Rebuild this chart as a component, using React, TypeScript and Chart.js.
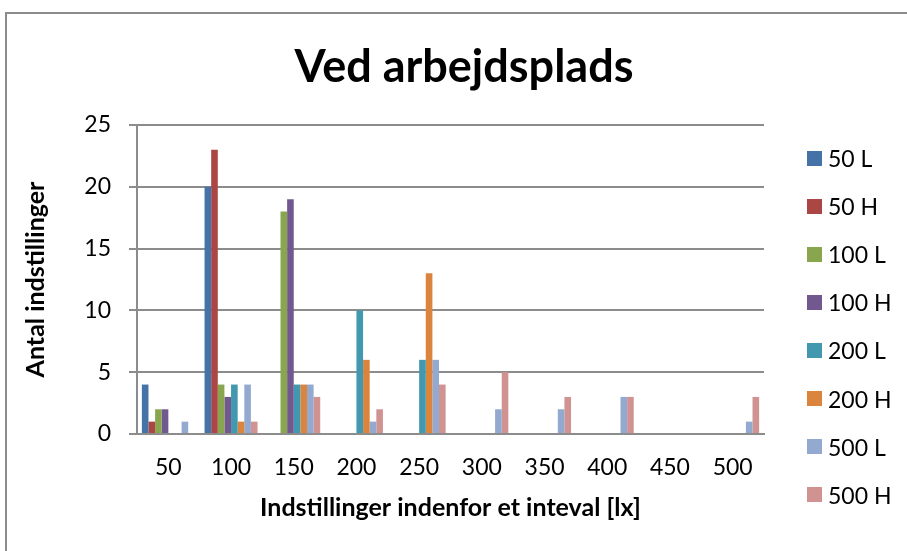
import React, { useEffect, useRef } from "react";
import { Chart, registerables } from "chart.js";

Chart.register(...registerables);

const categories = ["50", "100", "150", "200", "250", "300", "350", "400", "450", "500"];
const seriesNames = ["50 L", "50 H", "100 L", "100 H", "200 L", "200 H", "500 L", "500 H"];
const s50L = [4, 20, 0, 0, 0, 0, 0, 0, 0, 0];
const s50H = [1, 23, 0, 0, 0, 0, 0, 0, 0, 0];
const s100L = [2, 4, 18, 0, 0, 0, 0, 0, 0, 0];
const s100H = [2, 3, 19, 0, 0, 0, 0, 0, 0, 0];
const s200L = [0, 4, 4, 10, 6, 0, 0, 0, 0, 0];
const s200H = [0, 1, 4, 6, 13, 0, 0, 0, 0, 0];
const s500L = [1, 4, 4, 1, 6, 2, 2, 3, 0, 1];
const s500H = [0, 1, 3, 2, 4, 5, 3, 3, 0, 3];
const seriesColors = ["#4572A7", "#AA4643", "#89A54E", "#71588F", "#4198AF", "#DB843D", "#93A9CF", "#D19392"];
const yTicks = [0, 5, 10, 15, 20, 25];
const chartTitle = "Ved arbejdsplads";
const xTitle = "Indstillinger indenfor et inteval [lx]";
const yTitle = "Antal indstillinger";

const FONT = "Lato, 'Open Sans', sans-serif";

export default function App() {
  const ref = useRef<HTMLCanvasElement | null>(null);
  useEffect(() => {
    if (!ref.current) return;
    const values = [s50L, s50H, s100L, s100H, s200L, s200H, s500L, s500H];
    const chart = new Chart(ref.current, {
      type: "bar",
      data: {
        labels: categories,
        datasets: values.map((v, i) => ({
          label: seriesNames[i],
          data: v,
          backgroundColor: seriesColors[i],
          borderWidth: 0,
          categoryPercentage: 0.845,
          barPercentage: 1.0,
        })),
      },
      options: {
        animation: false,
        responsive: false,
        maintainAspectRatio: false,
        layout: { padding: { left: 0, right: 143, top: 125, bottom: 0 } },
        plugins: {
          legend: { display: false },
          tooltip: { enabled: false },
          title: { display: false },
        },
        scales: {
          x: {
            grid: { display: false, drawTicks: false },
            border: { display: true, color: "#8c8c8c", width: 2 },
            ticks: { color: "#000", font: { family: FONT, size: 23 }, padding: 20, maxRotation: 0 },
            title: {
              display: true,
              text: xTitle,
              color: "#000",
              font: { family: FONT, size: 25, weight: "bold" },
              padding: { top: 0, bottom: 28 },
            },
            afterFit: (s: any) => {
              s.height = 117;
            },
          },
          y: {
            min: 0,
            max: 25,
            afterBuildTicks: (s: any) => {
              s.ticks = yTicks.map((v) => ({ value: v }));
            },
            grid: { color: "#8c8c8c", lineWidth: 2, drawTicks: true, tickLength: 8 },
            border: { display: true, color: "#8c8c8c", width: 2 },
            ticks: { color: "#000", font: { family: FONT, size: 23 }, padding: 18 },
            title: {
              display: true,
              text: yTitle,
              color: "#000",
              font: { family: FONT, size: 25, weight: "bold" },
              padding: { top: 21, bottom: 0 },
            },
            afterFit: (s: any) => {
              s.width = 137;
            },
          },
        },
      },
    });
    return () => chart.destroy();
  }, []);

  return (
    <div style={{ position: "fixed", left: 0, top: 0, width: 907, height: 551, overflow: "hidden", background: "#fff" }}>
      <div
        style={{
          position: "absolute",
          left: 5,
          top: 12,
          width: 1200,
          height: 1200,
          border: "2px solid #8c8c8c",
          boxSizing: "border-box",
        }}
      />
      <canvas ref={ref} width={907} height={551} style={{ position: "absolute", left: 0, top: 0 }} />
      <div
        style={{
          position: "absolute",
          left: 0,
          width: 928,
          top: 37,
          height: 56,
          lineHeight: "56px",
          textAlign: "center",
          fontFamily: FONT,
          fontWeight: "bold",
          fontSize: 45,
          color: "#000",
          whiteSpace: "nowrap",
        }}
      >
        {chartTitle}
      </div>
      {seriesNames.map((n, i) => (
        <div
          key={n}
          style={{
            position: "absolute",
            left: 807,
            top: 158 + i * 48.1 - 15,
            height: 30,
            display: "flex",
            alignItems: "center",
            fontFamily: FONT,
            fontSize: 23,
            color: "#000",
            whiteSpace: "nowrap",
          }}
        >
          <span style={{ display: "inline-block", width: 15, height: 15, background: seriesColors[i], marginRight: 6 }} />
          <span>{n}</span>
        </div>
      ))}
    </div>
  );
}
